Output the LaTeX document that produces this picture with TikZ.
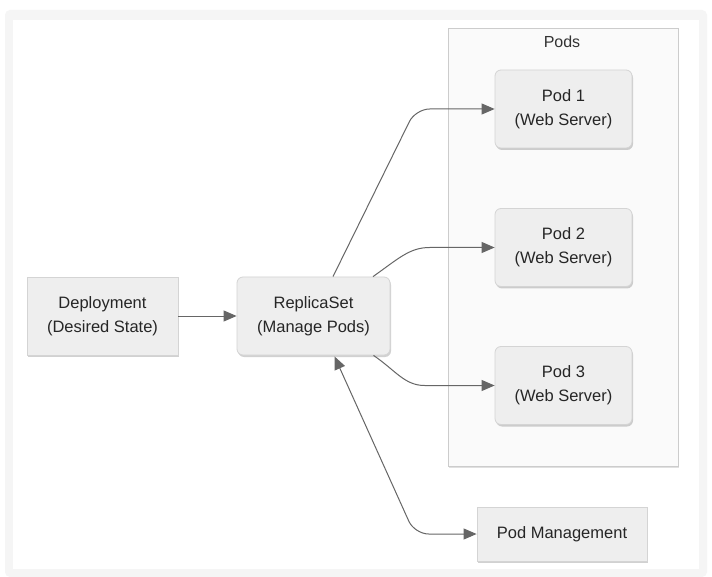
\documentclass[tikz,border=0pt]{standalone}
\usepackage{fontspec}
\setmainfont{Liberation Sans}
\usetikzlibrary{arrows.meta,shadows,calc}
\definecolor{nodefill}{HTML}{EEEEEE}
\definecolor{nodeline}{HTML}{D4D4D4}
\definecolor{edgecol}{HTML}{666666}
\definecolor{clusterfill}{HTML}{FAFAFA}
\definecolor{clusterline}{HTML}{CCCCCC}
\definecolor{framecol}{HTML}{F5F5F5}
\begin{document}
\begin{tikzpicture}[x=1pt,y=-1pt,
  box/.style={draw=nodeline,fill=nodefill,line width=0.8pt,inner sep=0pt,
    align=center,font=\fontsize{16.5}{24}\selectfont,text=black!85,
    drop shadow={shadow xshift=1pt,shadow yshift=-2pt,fill=black,opacity=0.18}},
  rbox/.style={box,rounded corners=6pt},
  conn/.style={draw=edgecol,line width=1pt,-{Triangle[length=13pt,width=11pt]}},
  biconn/.style={draw=edgecol,line width=1pt,{Triangle[length=13pt,width=11pt]}-{Triangle[length=13pt,width=11pt]}}]
\useasboundingbox (0,0) rectangle (712,577);
\fill[white] (0,0) rectangle (712,577);
\fill[framecol,rounded corners=5pt] (5,10) rectangle (707,577);
\fill[white] (13,20) rectangle (699,569);
% cluster
\node[draw=clusterline,fill=clusterfill,line width=0.8pt,minimum width=230pt,minimum height=438pt,inner sep=0pt,
  drop shadow={shadow xshift=1pt,shadow yshift=-2pt,fill=black,opacity=0.12}] (pods) at (563,247) {};
\node[font=\fontsize{16}{20}\selectfont,text=black!80] (podslbl) at (562,42) {Pods};
% nodes
\node[box,minimum width=151pt,minimum height=78pt] (dep) at (102.5,316) {Deployment\\(Desired State)};
\node[rbox,minimum width=153pt,minimum height=78pt] (rs) at (313.5,316) {ReplicaSet\\(Manage Pods)};
\node[rbox,minimum width=137pt,minimum height=78pt] (p1) at (563.5,109) {Pod 1\\(Web Server)};
\node[rbox,minimum width=137pt,minimum height=78pt] (p2) at (563.5,247.5) {Pod 2\\(Web Server)};
\node[rbox,minimum width=137pt,minimum height=78pt] (p3) at (563.5,385.5) {Pod 3\\(Web Server)};
\node[box,minimum width=170pt,minimum height=54pt] (pm) at (562,534) {Pod Management};
% edges
\draw[conn] (dep.east) -- (rs.west);
\draw[conn,rounded corners=14pt] ($(rs.north)+(19.5,0)$) -- ($(p1.west)+(-79,0)$) -- (p1.west);
\draw[conn] ($(rs.north)+(59.5,0)$) .. controls ($(rs.north)+(85,-18)$) and ($(p2.west)+(-85,0)$) .. ($(p2.west)+(-65,0)$) -- (p2.west);
\draw[conn] ($(rs.south)+(60,0)$) .. controls ($(rs.south)+(82,15)$) and ($(p3.west)+(-90,0)$) .. ($(p3.west)+(-70,0)$) -- (p3.west);
\draw[biconn,rounded corners=14pt] ($(rs.south)+(21,1)$) -- ($(pm.west)+(-62,0)$) -- (pm.west);
\end{tikzpicture}
\end{document}
